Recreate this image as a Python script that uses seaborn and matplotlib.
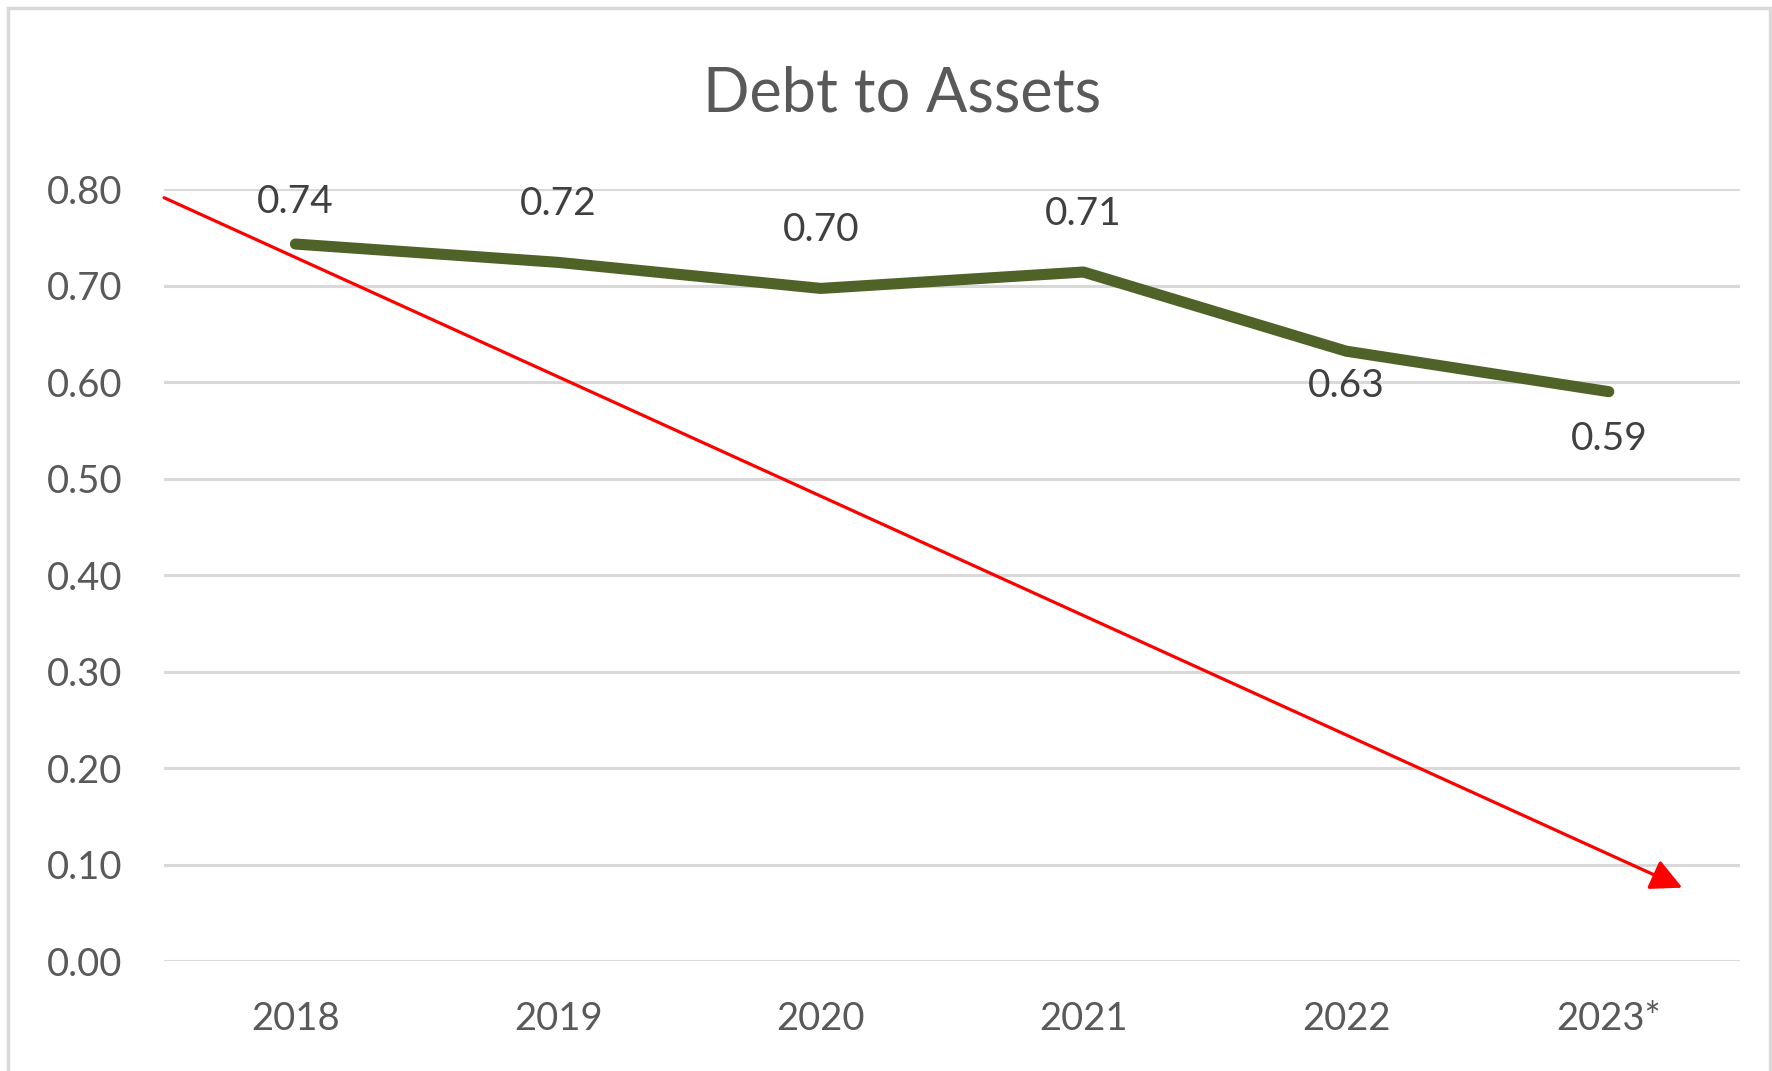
import matplotlib
matplotlib.use("Agg")
import matplotlib.pyplot as plt
import seaborn as sns
import pandas as pd
from matplotlib.patches import Rectangle

# chart data
years = ["2018", "2019", "2020", "2021", "2022", "2023*"]
debt_to_assets = [0.743, 0.724, 0.697, 0.714, 0.632, 0.590]
# red trend arrow (category position, value)
trend_start = (-0.5, 0.791)
trend_end = (5.28, 0.076)

df = pd.DataFrame({"year": years, "ratio": debt_to_assets})

sns.set_style("white")
plt.rcParams["font.family"] = ["Lato", "DejaVu Sans"]
grey = "#595959"

fig = plt.figure(figsize=(17.72, 10.71), dpi=100)
ax = fig.add_axes([0.0926, 0.1027, 0.982 - 0.0926, 0.8235 - 0.1027])

sns.lineplot(data=df, x="year", y="ratio", ax=ax, color="#4F6228",
             linewidth=8, solid_capstyle="round", sort=False, zorder=3)

# data labels: above for first four points, below for the last two
offsets = [30, 42, 42, 42, -25, -34]
for i, (v, off) in enumerate(zip(debt_to_assets, offsets)):
    ax.annotate(f"{v:.2f}", xy=(i, v), xytext=(0, off), textcoords="offset points",
                ha="center", va="center", fontsize=28, color="#404040", zorder=4)

ax.annotate("", xy=trend_end, xytext=trend_start,
            arrowprops=dict(arrowstyle="-|>", color="red", lw=2.3,
                            mutation_scale=48, shrinkA=0, shrinkB=0),
            annotation_clip=False, zorder=5)

ax.set_xlim(-0.5, 5.5)
ax.set_ylim(0, 0.8)
ax.set_yticks([i / 10 for i in range(9)])
ax.set_yticklabels([f"{i / 10:.2f}" for i in range(9)])
ax.grid(axis="y", color="#D9D9D9", linewidth=2.2)
ax.grid(axis="x", visible=False)
ax.set_axisbelow(True)
for s in ax.spines.values():
    s.set_visible(False)
ax.tick_params(axis="y", length=0, pad=30, labelsize=27.5, labelcolor=grey)
ax.tick_params(axis="x", length=0, pad=29, labelsize=27.5, labelcolor=grey)
ax.set_xlabel("")
ax.set_ylabel("")

fig.text(0.509, 0.912, "Debt to Assets", ha="center", va="center",
         fontsize=44, color=grey)

# chart border
fig.patches.append(Rectangle((8 / 1772, -0.05), (1770 - 8) / 1772, 1.05 - 8 / 1071,
                             transform=fig.transFigure, fill=False,
                             edgecolor="#D9D9D9", linewidth=2.5))

fig.savefig("out.png", dpi=100)
